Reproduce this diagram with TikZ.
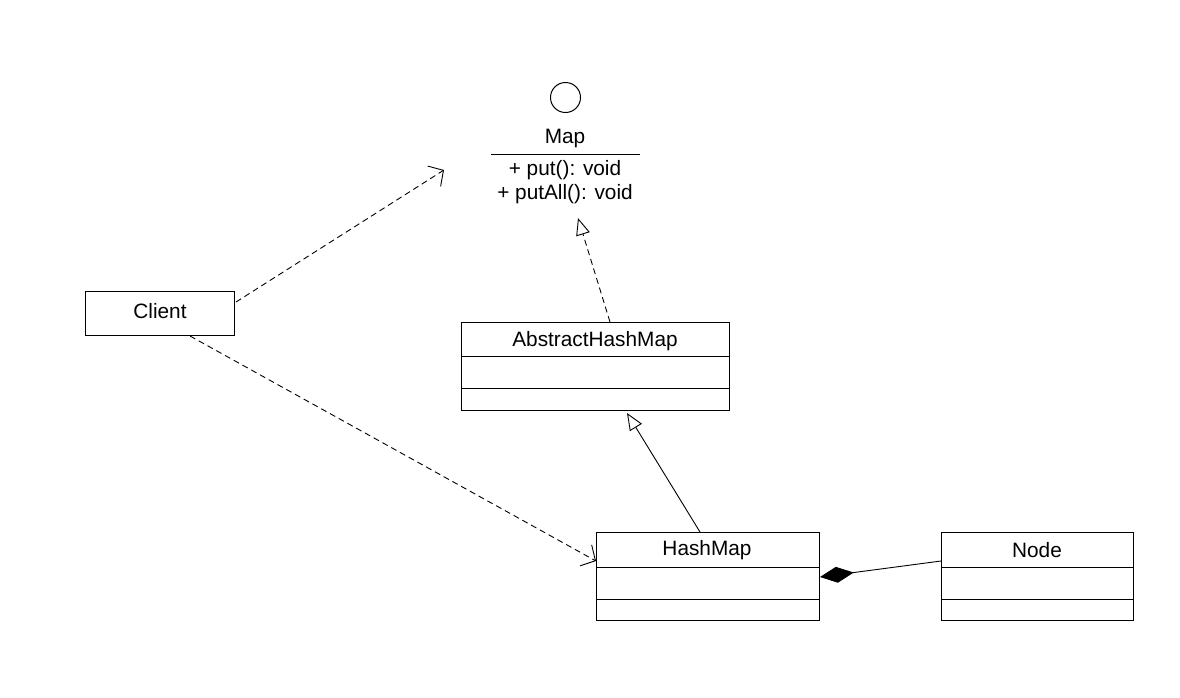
\documentclass[tikz,border=0pt]{standalone}
\usepackage{fontspec}
\setmainfont{Liberation Sans}
\usetikzlibrary{arrows.meta}
\begin{document}
\begin{tikzpicture}[x=1pt,y=-1pt,
  box/.style={draw,line width=1pt,minimum width=#1,anchor=north west,inner sep=0pt},
  lbl/.style={inner sep=0pt,font=\fontsize{20.8}{24}\selectfont},
  conn/.style={line width=0.9pt},
  dep/.style={conn,dash pattern=on 6pt off 4pt,-{Straight Barb[length=11pt,width=24pt,line width=0.9pt]}},
  real/.style={conn,dash pattern=on 6pt off 4pt,-{Triangle[open,length=17pt,width=14pt,line width=0.9pt]}},
  gen/.style={conn,-{Triangle[open,length=17pt,width=14pt,line width=0.9pt]}},
  comp/.style={conn,-{Diamond[length=34pt,width=16pt]}}]
\useasboundingbox (0,0) rectangle (1180,697);
% Map interface
\node[draw,circle,line width=1pt,minimum size=30pt,inner sep=0pt] (mapc) at (565.5,97.5) {};
\node[lbl] (mapt) at (565,138) {Map};
\draw[line width=1pt] (491,154) coordinate (mapl) -- (640,154) coordinate (mapr);
\node[lbl] (mapm1) at (565,170) {+ put(): void};
\node[lbl] (mapm2) at (565,194) {+ putAll(): void};
% Client
\node[box=149pt,minimum height=44pt] (client) at (85,291) {};
\node[lbl] (clientt) at (160,311) {Client};
% AbstractHashMap
\node[box=268pt,minimum height=88pt] (ahm) at (461,322) {};
\node[lbl] (ahmt) at (595,341) {AbstractHashMap};
\draw[line width=1pt] (461,356) -- (729,356);
\draw[line width=1pt] (461,388) -- (729,388);
% HashMap
\node[box=223pt,minimum height=88pt] (hm) at (596,532) {};
\node[lbl] (hmt) at (707,550) {HashMap};
\draw[line width=1pt] (596,567) -- (819,567);
\draw[line width=1pt] (596,599) -- (819,599);
% Node
\node[box=192pt,minimum height=88pt] (nd) at (941,532) {};
\node[lbl] (ndt) at (1037,550) {Node};
\draw[line width=1pt] (941,567) -- (1133,567);
\draw[line width=1pt] (941,599) -- (1133,599);
% connector end points
\coordinate (c1s) at (236,302);
\coordinate (c1e) at (444,170);
\coordinate (c2s) at (190,336);
\coordinate (c2e) at (596,561);
\coordinate (r1s) at (610,322);
\coordinate (r1e) at (578,218);
\coordinate (g1s) at (700,532);
\coordinate (g1e) at (627,413);
\coordinate (k1s) at (941,561);
\coordinate (k1e) at (820,577);
\draw[dep] (c1s) -- (c1e);
\draw[dep] (c2s) -- (c2e);
\draw[real] (r1s) -- (r1e);
\draw[gen] (g1s) -- (g1e);
\draw[comp] (k1s) -- (k1e);
\end{tikzpicture}
\end{document}
